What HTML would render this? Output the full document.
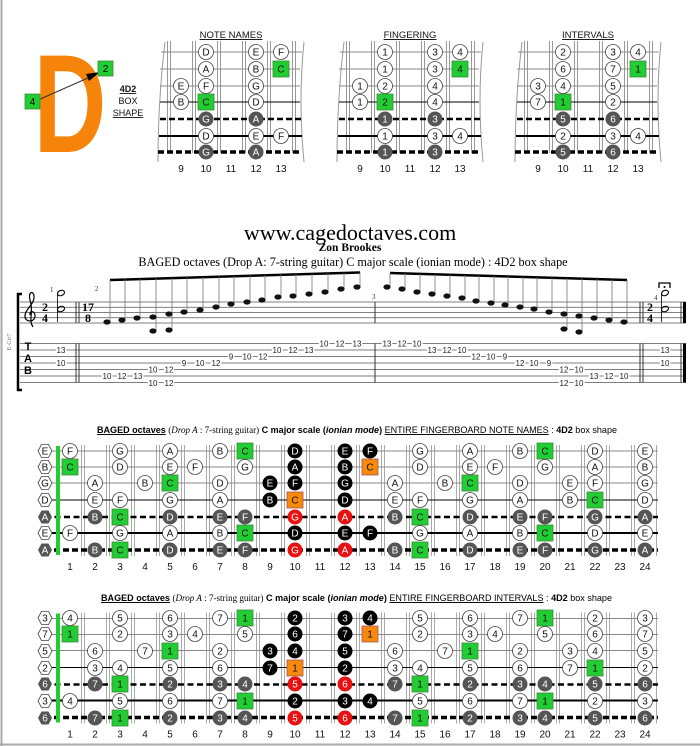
<!DOCTYPE html>
<html><head><meta charset="utf-8"><style>
html,body{margin:0;padding:0;background:#fff}
svg{display:block}
.w{fill:#fff;stroke:#444;stroke-width:.8}
.d{fill:#555}
.k{fill:#000}
.r{fill:#e81010}
.g{fill:#22cc33;stroke:#3a8a3a;stroke-width:.8}
.o{fill:#f7890c;stroke:#a55;stroke-width:.8}
.m text{font:10px "Liberation Sans",sans-serif;text-anchor:middle;fill:#111}
.m text.l{fill:#fff}
.fn{font:10px "Liberation Sans",sans-serif;text-anchor:middle;fill:#111}
.tb text{font:8px "Liberation Sans",sans-serif;text-anchor:middle;fill:#222;stroke:#fff;stroke-width:3;paint-order:stroke}
.nh{fill:#111}
.st line{stroke:#555;stroke-width:.8}
</style></head><body>
<svg width="700" height="746" viewBox="0 0 700 746" xmlns="http://www.w3.org/2000/svg">
<defs>
<polygon id="hw" points="-7,0 -3.5,-6.5 3.5,-6.5 7,0 3.5,6.5 -3.5,6.5" fill="#fff" stroke="#444" stroke-width=".8"/>
<polygon id="hd" points="-7,0 -3.5,-6.5 3.5,-6.5 7,0 3.5,6.5 -3.5,6.5" fill="#555"/>
</defs>
<line x1="1.5" y1="0" x2="1.5" y2="746" stroke="#aaa" stroke-width="2"/>
<line x1="0" y1="744.5" x2="700" y2="744.5" stroke="#aaa" stroke-width="2"/>

<!-- D logo -->
<text x="70" y="152" font-family="Liberation Sans" font-weight="bold" font-size="140" fill="#f7840a" text-anchor="middle" transform="translate(70,0) scale(0.72,1) translate(-70,0)">D</text>
<line x1="38" y1="100" x2="97" y2="74" stroke="#333" stroke-width="1"/>
<polygon points="100,72 86,74 89,81" fill="#000"/>
<rect x="98" y="61" width="15" height="15" class="g"/><text x="105.5" y="72" font-family="Liberation Sans" font-size="10" text-anchor="middle">2</text>
<rect x="25" y="94" width="15" height="15" class="g"/><text x="32.5" y="105" font-family="Liberation Sans" font-size="10" text-anchor="middle">4</text>
<g font-family="Liberation Sans" font-size="9" text-anchor="middle" fill="#111">
<text x="128" y="92" font-weight="bold" text-decoration="underline">4D2</text>
<text x="128" y="104">BOX</text>
<text x="128" y="116" text-decoration="underline">SHAPE</text>
</g>

<!-- top diagrams -->
<g font-family="Liberation Sans" font-size="9.5" text-anchor="middle" fill="#111" text-decoration="underline">
<text x="231" y="38">NOTE NAMES</text><text x="410" y="38">FINGERING</text><text x="588" y="38">INTERVALS</text>
</g>
<g id="frame">
<line x1="167" y1="97" x2="296" y2="97" stroke="#999" stroke-width="112" stroke-dasharray="1,2,1,21"/>
<path d="M165 42 Q158 100 158 162" fill="none" stroke="#999"/>
<path d="M304 42 Q298 100 304 162" fill="none" stroke="#999"/>
<line x1="161" y1="52" x2="302" y2="52" stroke="#888"/>
<line x1="160" y1="69" x2="300" y2="69" stroke="#888"/>
<line x1="160" y1="86" x2="300" y2="86" stroke="#888"/>
<line x1="160" y1="102" x2="300" y2="102" stroke="#000"/>
<line x1="160" y1="119" x2="302" y2="119" stroke="#000" stroke-width="2.5" stroke-dasharray="6,3"/>
<line x1="159" y1="136" x2="302" y2="136" stroke="#000" stroke-width="2"/>
<line x1="158" y1="152" x2="300" y2="152" stroke="#000" stroke-width="3.5" stroke-dasharray="6,3"/>
<g class="fn"><text x="181" y="172">9</text><text x="206" y="172">10</text><text x="231" y="172">11</text><text x="256" y="172">12</text><text x="281" y="172">13</text></g>
</g>
<use href="#frame" x="179"/><use href="#frame" x="357"/>

<g class="m">
<g transform="translate(0,52)"><circle class="w" cx="206" r="7.5"/><text x="206" y="3.5">D</text><circle class="w" cx="256" r="7.5"/><text x="256" y="3.5">E</text><circle class="w" cx="281" r="7.5"/><text x="281" y="3.5">F</text></g>
<g transform="translate(0,69)"><circle class="w" cx="206" r="7.5"/><text x="206" y="3.5">A</text><circle class="w" cx="256" r="7.5"/><text x="256" y="3.5">B</text><rect class="g" x="273" y="-8" width="16" height="16"/><text x="281" y="3.5">C</text></g>
<g transform="translate(0,86)"><circle class="w" cx="181" r="7.5"/><text x="181" y="3.5">E</text><circle class="w" cx="206" r="7.5"/><text x="206" y="3.5">F</text><circle class="w" cx="256" r="7.5"/><text x="256" y="3.5">G</text></g>
<g transform="translate(0,102)"><circle class="w" cx="181" r="7.5"/><text x="181" y="3.5">B</text><rect class="g" x="198" y="-8" width="16" height="16"/><text x="206" y="3.5">C</text><circle class="w" cx="256" r="7.5"/><text x="256" y="3.5">D</text></g>
<g transform="translate(0,119)"><circle class="d" cx="206" r="7.5"/><text class="l" x="206" y="3.5">G</text><circle class="d" cx="256" r="7.5"/><text class="l" x="256" y="3.5">A</text></g>
<g transform="translate(0,136)"><circle class="w" cx="206" r="7.5"/><text x="206" y="3.5">D</text><circle class="w" cx="256" r="7.5"/><text x="256" y="3.5">E</text><circle class="w" cx="281" r="7.5"/><text x="281" y="3.5">F</text></g>
<g transform="translate(0,152)"><circle class="d" cx="206" r="7.5"/><text class="l" x="206" y="3.5">G</text><circle class="d" cx="256" r="7.5"/><text class="l" x="256" y="3.5">A</text></g>

<g transform="translate(179,0)">
<g transform="translate(0,52)"><circle class="w" cx="206" r="7.5"/><text x="206" y="3.5">1</text><circle class="w" cx="256" r="7.5"/><text x="256" y="3.5">3</text><circle class="w" cx="281" r="7.5"/><text x="281" y="3.5">4</text></g>
<g transform="translate(0,69)"><circle class="w" cx="206" r="7.5"/><text x="206" y="3.5">1</text><circle class="w" cx="256" r="7.5"/><text x="256" y="3.5">3</text><rect class="g" x="273" y="-8" width="16" height="16"/><text x="281" y="3.5">4</text></g>
<g transform="translate(0,86)"><circle class="w" cx="181" r="7.5"/><text x="181" y="3.5">1</text><circle class="w" cx="206" r="7.5"/><text x="206" y="3.5">2</text><circle class="w" cx="256" r="7.5"/><text x="256" y="3.5">4</text></g>
<g transform="translate(0,102)"><circle class="w" cx="181" r="7.5"/><text x="181" y="3.5">1</text><rect class="g" x="198" y="-8" width="16" height="16"/><text x="206" y="3.5">2</text><circle class="w" cx="256" r="7.5"/><text x="256" y="3.5">4</text></g>
<g transform="translate(0,119)"><circle class="d" cx="206" r="7.5"/><text class="l" x="206" y="3.5">1</text><circle class="d" cx="256" r="7.5"/><text class="l" x="256" y="3.5">3</text></g>
<g transform="translate(0,136)"><circle class="w" cx="206" r="7.5"/><text x="206" y="3.5">1</text><circle class="w" cx="256" r="7.5"/><text x="256" y="3.5">3</text><circle class="w" cx="281" r="7.5"/><text x="281" y="3.5">4</text></g>
<g transform="translate(0,152)"><circle class="d" cx="206" r="7.5"/><text class="l" x="206" y="3.5">1</text><circle class="d" cx="256" r="7.5"/><text class="l" x="256" y="3.5">3</text></g>
</g>

<g transform="translate(357,0)">
<g transform="translate(0,52)"><circle class="w" cx="206" r="7.5"/><text x="206" y="3.5">2</text><circle class="w" cx="256" r="7.5"/><text x="256" y="3.5">3</text><circle class="w" cx="281" r="7.5"/><text x="281" y="3.5">4</text></g>
<g transform="translate(0,69)"><circle class="w" cx="206" r="7.5"/><text x="206" y="3.5">6</text><circle class="w" cx="256" r="7.5"/><text x="256" y="3.5">7</text><rect class="g" x="273" y="-8" width="16" height="16"/><text x="281" y="3.5">1</text></g>
<g transform="translate(0,86)"><circle class="w" cx="181" r="7.5"/><text x="181" y="3.5">3</text><circle class="w" cx="206" r="7.5"/><text x="206" y="3.5">4</text><circle class="w" cx="256" r="7.5"/><text x="256" y="3.5">5</text></g>
<g transform="translate(0,102)"><circle class="w" cx="181" r="7.5"/><text x="181" y="3.5">7</text><rect class="g" x="198" y="-8" width="16" height="16"/><text x="206" y="3.5">1</text><circle class="w" cx="256" r="7.5"/><text x="256" y="3.5">2</text></g>
<g transform="translate(0,119)"><circle class="d" cx="206" r="7.5"/><text class="l" x="206" y="3.5">5</text><circle class="d" cx="256" r="7.5"/><text class="l" x="256" y="3.5">6</text></g>
<g transform="translate(0,136)"><circle class="w" cx="206" r="7.5"/><text x="206" y="3.5">2</text><circle class="w" cx="256" r="7.5"/><text x="256" y="3.5">3</text><circle class="w" cx="281" r="7.5"/><text x="281" y="3.5">4</text></g>
<g transform="translate(0,152)"><circle class="d" cx="206" r="7.5"/><text class="l" x="206" y="3.5">5</text><circle class="d" cx="256" r="7.5"/><text class="l" x="256" y="3.5">6</text></g>
</g>
</g>

<!-- titles -->
<text x="350" y="240" font-family="Liberation Serif" font-size="22" text-anchor="middle" fill="#000">www.cagedoctaves.com</text>
<text x="350" y="251" font-family="Liberation Serif" font-size="11.5" font-weight="bold" text-anchor="middle">Zon Brookes</text>
<text x="353" y="266" font-family="Liberation Serif" font-size="12.2" text-anchor="middle">BAGED octaves (Drop A: 7-string guitar) C major scale (ionian mode) : 4D2 box shape</text>

<!-- staff -->
<g class="st">
<line x1="20" y1="302" x2="686" y2="302"/><line x1="20" y1="307.25" x2="686" y2="307.25"/><line x1="20" y1="312.5" x2="686" y2="312.5"/><line x1="20" y1="317.75" x2="686" y2="317.75"/><line x1="20" y1="323" x2="686" y2="323"/>
<line x1="20" y1="343.5" x2="686" y2="343.5"/><line x1="20" y1="350" x2="686" y2="350"/><line x1="20" y1="356.5" x2="686" y2="356.5"/><line x1="20" y1="363" x2="686" y2="363"/><line x1="20" y1="369.5" x2="686" y2="369.5"/><line x1="20" y1="376" x2="686" y2="376"/><line x1="20" y1="382.5" x2="686" y2="382.5"/>
</g>
<path d="M22 294 H18 V390 H22" fill="none" stroke="#000" stroke-width="2.5"/>
<text x="11" y="342" font-family="Liberation Serif" font-size="6" fill="#6a8a6a" text-anchor="middle" transform="rotate(-90 11 342)">E-Gtr7</text>
<g stroke="#000" fill="none">
<path d="M33 327 C28 320 34 312 30 300 C28 292 33 290 34 296 C35 304 24 310 25 317 C26 323 36 322 35 315 C34 310 29 311 30 315" stroke-width="1.2"/>
</g>
<g font-family="Liberation Serif" font-weight="bold" font-size="12" text-anchor="middle">
<text x="45" y="311">2</text><text x="45" y="322">4</text>
<text x="88" y="311">17</text><text x="88" y="322">8</text>
<text x="650" y="311">2</text><text x="650" y="322">4</text>
</g>
<g font-family="Liberation Serif" font-size="7" fill="#333"><text x="50" y="292">1</text><text x="95" y="291">2</text><text x="372" y="299">3</text><text x="654" y="300">4</text></g>
<g font-family="Liberation Sans" font-size="11" font-weight="bold" text-anchor="middle"><text x="28" y="350">T</text><text x="28" y="362">A</text><text x="28" y="374">B</text></g>
<!-- barlines -->
<g stroke="#333">
<line x1="76" y1="302" x2="76" y2="323"/><line x1="79" y1="302" x2="79" y2="323"/><line x1="76" y1="343.5" x2="76" y2="382.5"/><line x1="79" y1="343.5" x2="79" y2="382.5"/>
<line x1="375" y1="302" x2="375" y2="323"/><line x1="375" y1="343.5" x2="375" y2="382.5"/>
<line x1="640" y1="302" x2="640" y2="323"/><line x1="643" y1="302" x2="643" y2="323"/><line x1="640" y1="343.5" x2="640" y2="382.5"/><line x1="643" y1="343.5" x2="643" y2="382.5"/>
<line x1="681" y1="302" x2="681" y2="323"/><line x1="681" y1="343.5" x2="681" y2="382.5"/>
</g>
<rect x="683" y="302" width="3" height="21" fill="#000"/><rect x="683" y="343.5" width="3" height="39" fill="#000"/>
<!-- half notes -->
<g fill="none" stroke="#000" stroke-width="1.1">
<ellipse cx="61" cy="293" rx="3.6" ry="2.6" transform="rotate(-20 61 293)"/>
<ellipse cx="61" cy="309" rx="3.6" ry="2.6" transform="rotate(-20 61 309)"/>
<ellipse cx="665" cy="293" rx="3.6" ry="2.6" transform="rotate(-20 665 293)"/>
<ellipse cx="665" cy="309" rx="3.6" ry="2.6" transform="rotate(-20 665 309)"/>
</g>
<line x1="57.5" y1="293" x2="57.5" y2="322" stroke="#000" stroke-width=".8"/>
<line x1="661.5" y1="293" x2="661.5" y2="322" stroke="#000" stroke-width=".8"/>
<path d="M659 288 V283 H670 V288" fill="none" stroke="#000" stroke-width="1.3"/><circle cx="664.5" cy="287" r="1" fill="#000"/>
<!-- beams -->
<line x1="110" y1="280" x2="360" y2="272.5" stroke="#000" stroke-width="2.5"/>
<line x1="390" y1="273" x2="627" y2="280" stroke="#000" stroke-width="2.5"/>
<g stroke="#777" stroke-width=".8">
<line x1="110" y1="280" x2="110" y2="322"/><line x1="125" y1="279.5" x2="125" y2="320"/><line x1="140" y1="279" x2="140" y2="318"/><line x1="156" y1="278.5" x2="156" y2="331"/><line x1="172" y1="278" x2="172" y2="330"/><line x1="187" y1="277.5" x2="187" y2="312"/><line x1="203" y1="277" x2="203" y2="310"/><line x1="219" y1="276.5" x2="219" y2="307"/><line x1="234" y1="276" x2="234" y2="304"/><line x1="250" y1="275.5" x2="250" y2="302"/><line x1="265" y1="275" x2="265" y2="300"/><line x1="281" y1="274.5" x2="281" y2="297"/><line x1="296" y1="274" x2="296" y2="296"/><line x1="312" y1="273.8" x2="312" y2="294"/><line x1="328" y1="273.3" x2="328" y2="292"/><line x1="344" y1="273" x2="344" y2="289"/><line x1="360" y1="272.5" x2="360" y2="287"/>
<line x1="390" y1="273" x2="390" y2="287"/><line x1="405" y1="273.5" x2="405" y2="289"/><line x1="420" y1="274" x2="420" y2="292"/><line x1="435" y1="274.4" x2="435" y2="294"/><line x1="450" y1="274.8" x2="450" y2="296"/><line x1="465" y1="275.3" x2="465" y2="298"/><line x1="479" y1="275.7" x2="479" y2="301"/><line x1="494" y1="276.1" x2="494" y2="303"/><line x1="508" y1="276.5" x2="508" y2="305"/><line x1="523" y1="277" x2="523" y2="307"/><line x1="537" y1="277.4" x2="537" y2="309"/><line x1="552" y1="277.8" x2="552" y2="312"/><line x1="567" y1="278.3" x2="567" y2="329"/><line x1="582" y1="278.7" x2="582" y2="332"/><line x1="597" y1="279.1" x2="597" y2="318"/><line x1="612" y1="279.6" x2="612" y2="320"/><line x1="627" y1="280" x2="627" y2="322"/>
</g>
<g class="nh">
<ellipse cx="107" cy="322" rx="3.6" ry="2.6"/><ellipse cx="122" cy="320" rx="3.6" ry="2.6"/><ellipse cx="137" cy="318" rx="3.6" ry="2.6"/><ellipse cx="153" cy="317" rx="3.6" ry="2.6"/><ellipse cx="153" cy="331" rx="3.6" ry="2.6"/><ellipse cx="169" cy="314" rx="3.6" ry="2.6"/><ellipse cx="169" cy="330" rx="3.6" ry="2.6"/><ellipse cx="184" cy="312" rx="3.6" ry="2.6"/><ellipse cx="200" cy="310" rx="3.6" ry="2.6"/><ellipse cx="216" cy="307" rx="3.6" ry="2.6"/><ellipse cx="231" cy="304" rx="3.6" ry="2.6"/><ellipse cx="247" cy="302" rx="3.6" ry="2.6"/><ellipse cx="262" cy="300" rx="3.6" ry="2.6"/><ellipse cx="278" cy="297" rx="3.6" ry="2.6"/><ellipse cx="293" cy="296" rx="3.6" ry="2.6"/><ellipse cx="309" cy="294" rx="3.6" ry="2.6"/><ellipse cx="325" cy="292" rx="3.6" ry="2.6"/><ellipse cx="341" cy="289" rx="3.6" ry="2.6"/><ellipse cx="357" cy="287" rx="3.6" ry="2.6"/>
<ellipse cx="387" cy="287" rx="3.6" ry="2.6"/><ellipse cx="402" cy="289" rx="3.6" ry="2.6"/><ellipse cx="417" cy="292" rx="3.6" ry="2.6"/><ellipse cx="432" cy="294" rx="3.6" ry="2.6"/><ellipse cx="447" cy="296" rx="3.6" ry="2.6"/><ellipse cx="462" cy="298" rx="3.6" ry="2.6"/><ellipse cx="476" cy="301" rx="3.6" ry="2.6"/><ellipse cx="491" cy="303" rx="3.6" ry="2.6"/><ellipse cx="505" cy="305" rx="3.6" ry="2.6"/><ellipse cx="520" cy="307" rx="3.6" ry="2.6"/><ellipse cx="534" cy="309" rx="3.6" ry="2.6"/><ellipse cx="549" cy="312" rx="3.6" ry="2.6"/><ellipse cx="564" cy="314" rx="3.6" ry="2.6"/><ellipse cx="564" cy="329" rx="3.6" ry="2.6"/><ellipse cx="579" cy="316" rx="3.6" ry="2.6"/><ellipse cx="579" cy="332" rx="3.6" ry="2.6"/><ellipse cx="594" cy="318" rx="3.6" ry="2.6"/><ellipse cx="609" cy="320" rx="3.6" ry="2.6"/><ellipse cx="624" cy="322" rx="3.6" ry="2.6"/>
</g>
<!-- tab numbers -->
<g class="tb">
<text x="61" y="353">13</text><text x="61" y="366">10</text>
<text x="665" y="353">13</text><text x="665" y="366">10</text>
<text x="107" y="379">10</text><text x="122" y="379">12</text><text x="138" y="379">13</text>
<text x="153" y="372.5">10</text><text x="169" y="372.5">12</text><text x="153" y="386">10</text><text x="169" y="386">12</text>
<text x="184" y="366">9</text><text x="200" y="366">10</text><text x="216" y="366">12</text>
<text x="231" y="359.5">9</text><text x="247" y="359.5">10</text><text x="263" y="359.5">12</text>
<text x="277" y="353">10</text><text x="293" y="353">12</text><text x="309" y="353">13</text>
<text x="324" y="346.5">10</text><text x="340" y="346.5">12</text><text x="357" y="346.5">13</text>
<text x="387" y="346.5">13</text><text x="402" y="346.5">12</text><text x="417" y="346.5">10</text>
<text x="432" y="353">13</text><text x="447" y="353">12</text><text x="462" y="353">10</text>
<text x="476" y="359.5">12</text><text x="491" y="359.5">10</text><text x="505" y="359.5">9</text>
<text x="520" y="366">12</text><text x="534" y="366">10</text><text x="549" y="366">9</text>
<text x="564" y="372.5">12</text><text x="579" y="372.5">10</text><text x="564" y="386">12</text><text x="579" y="386">10</text>
<text x="594" y="379">13</text><text x="609" y="379">12</text><text x="624" y="379">10</text>
</g>

<!-- bottom board titles -->
<text x="97" y="433" font-family="Liberation Sans" font-size="9.5" textLength="520" lengthAdjust="spacingAndGlyphs"><tspan font-weight="bold" text-decoration="underline">BAGED octaves</tspan> <tspan font-family="Liberation Serif">(<tspan font-style="italic">Drop A</tspan> : 7-string guitar)</tspan> <tspan font-weight="bold">C major scale (<tspan font-style="italic">ionian mode</tspan>)</tspan> <tspan text-decoration="underline">ENTIRE FINGERBOARD  NOTE NAMES</tspan> : <tspan font-weight="bold">4D2</tspan> box shape</text>
<text x="101" y="601" font-family="Liberation Sans" font-size="9.5" textLength="511" lengthAdjust="spacingAndGlyphs"><tspan font-weight="bold" text-decoration="underline">BAGED octaves</tspan> <tspan font-family="Liberation Serif">(<tspan font-style="italic">Drop A</tspan> : 7-string guitar)</tspan> <tspan font-weight="bold">C major scale (<tspan font-style="italic">ionian mode</tspan>)</tspan> <tspan text-decoration="underline">ENTIRE FINGERBOARD  INTERVALS</tspan> : <tspan font-weight="bold">4D2</tspan> box shape</text>

<!-- board frame template -->
<g id="bf">
<line x1="81" y1="500.5" x2="658" y2="500.5" stroke="#aaa" stroke-width="111" stroke-dasharray="1,2,1,21"/>
<line x1="45" y1="451" x2="658" y2="451" stroke="#888"/>
<line x1="45" y1="467" x2="658" y2="467" stroke="#888"/>
<line x1="45" y1="483" x2="658" y2="483" stroke="#888"/>
<line x1="45" y1="500" x2="658" y2="500" stroke="#000"/>
<line x1="45" y1="517" x2="658" y2="517" stroke="#000" stroke-width="2.5" stroke-dasharray="6,3.5"/>
<line x1="45" y1="533" x2="658" y2="533" stroke="#000" stroke-width="2"/>
<line x1="45" y1="550" x2="658" y2="550" stroke="#000" stroke-width="3.5" stroke-dasharray="6,3"/>
<rect x="56" y="446" width="4" height="109" fill="#22cc33"/>
<g class="fn"><text x="70" y="570">1</text><text x="95" y="570">2</text><text x="120" y="570">3</text><text x="145" y="570">4</text><text x="170" y="570">5</text><text x="195" y="570">6</text><text x="220" y="570">7</text><text x="245" y="570">8</text><text x="270" y="570">9</text><text x="295" y="570">10</text><text x="320" y="570">11</text><text x="345" y="570">12</text><text x="370" y="570">13</text><text x="395" y="570">14</text><text x="420" y="570">15</text><text x="445" y="570">16</text><text x="470" y="570">17</text><text x="495" y="570">18</text><text x="520" y="570">19</text><text x="545" y="570">20</text><text x="570" y="570">21</text><text x="595" y="570">22</text><text x="620" y="570">23</text><text x="645" y="570">24</text></g>
</g>
<use href="#bf" y="167.5"/>

<g class="m">
<!-- board 1 -->
<g transform="translate(0,451)"><use href="#hw" x="45"/><text x="45" y="3.5">E</text>
<circle class="w" cx="70" r="7.5"/><text x="70" y="3.5">F</text><circle class="w" cx="120" r="7.5"/><text x="120" y="3.5">G</text><circle class="w" cx="170" r="7.5"/><text x="170" y="3.5">A</text><circle class="w" cx="220" r="7.5"/><text x="220" y="3.5">B</text><circle class="w" cx="420" r="7.5"/><text x="420" y="3.5">G</text><circle class="w" cx="470" r="7.5"/><text x="470" y="3.5">A</text><circle class="w" cx="520" r="7.5"/><text x="520" y="3.5">B</text><circle class="w" cx="595" r="7.5"/><text x="595" y="3.5">D</text><circle class="w" cx="645" r="7.5"/><text x="645" y="3.5">E</text>
<rect class="g" x="237" y="-8" width="16" height="16"/><text x="245" y="3.5">C</text><rect class="g" x="537" y="-8" width="16" height="16"/><text x="545" y="3.5">C</text>
<circle class="k" cx="295" r="7.5"/><text class="l" x="295" y="3.5">D</text><circle class="k" cx="345" r="7.5"/><text class="l" x="345" y="3.5">E</text><circle class="k" cx="370" r="7.5"/><text class="l" x="370" y="3.5">F</text></g>

<g transform="translate(0,467)"><use href="#hw" x="45"/><text x="45" y="3.5">B</text>
<circle class="w" cx="120" r="7.5"/><text x="120" y="3.5">D</text><circle class="w" cx="170" r="7.5"/><text x="170" y="3.5">E</text><circle class="w" cx="195" r="7.5"/><text x="195" y="3.5">F</text><circle class="w" cx="245" r="7.5"/><text x="245" y="3.5">G</text><circle class="w" cx="420" r="7.5"/><text x="420" y="3.5">D</text><circle class="w" cx="470" r="7.5"/><text x="470" y="3.5">E</text><circle class="w" cx="495" r="7.5"/><text x="495" y="3.5">F</text><circle class="w" cx="545" r="7.5"/><text x="545" y="3.5">G</text><circle class="w" cx="595" r="7.5"/><text x="595" y="3.5">A</text><circle class="w" cx="645" r="7.5"/><text x="645" y="3.5">B</text>
<rect class="g" x="62" y="-8" width="16" height="16"/><text x="70" y="3.5">C</text>
<circle class="k" cx="295" r="7.5"/><text class="l" x="295" y="3.5">A</text><circle class="k" cx="345" r="7.5"/><text class="l" x="345" y="3.5">B</text>
<rect class="o" x="362" y="-8" width="16" height="16"/><text x="370" y="3.5">C</text></g>

<g transform="translate(0,483)"><use href="#hw" x="45"/><text x="45" y="3.5">G</text>
<circle class="w" cx="95" r="7.5"/><text x="95" y="3.5">A</text><circle class="w" cx="145" r="7.5"/><text x="145" y="3.5">B</text><circle class="w" cx="220" r="7.5"/><text x="220" y="3.5">D</text><circle class="w" cx="395" r="7.5"/><text x="395" y="3.5">A</text><circle class="w" cx="445" r="7.5"/><text x="445" y="3.5">B</text><circle class="w" cx="520" r="7.5"/><text x="520" y="3.5">D</text><circle class="w" cx="570" r="7.5"/><text x="570" y="3.5">E</text><circle class="w" cx="595" r="7.5"/><text x="595" y="3.5">F</text><circle class="w" cx="645" r="7.5"/><text x="645" y="3.5">G</text>
<rect class="g" x="162" y="-8" width="16" height="16"/><text x="170" y="3.5">C</text><rect class="g" x="462" y="-8" width="16" height="16"/><text x="470" y="3.5">C</text>
<circle class="k" cx="270" r="7.5"/><text class="l" x="270" y="3.5">E</text><circle class="k" cx="295" r="7.5"/><text class="l" x="295" y="3.5">F</text><circle class="k" cx="345" r="7.5"/><text class="l" x="345" y="3.5">G</text></g>

<g transform="translate(0,500)"><use href="#hw" x="45"/><text x="45" y="3.5">D</text>
<circle class="w" cx="95" r="7.5"/><text x="95" y="3.5">E</text><circle class="w" cx="120" r="7.5"/><text x="120" y="3.5">F</text><circle class="w" cx="170" r="7.5"/><text x="170" y="3.5">G</text><circle class="w" cx="220" r="7.5"/><text x="220" y="3.5">A</text><circle class="w" cx="395" r="7.5"/><text x="395" y="3.5">E</text><circle class="w" cx="420" r="7.5"/><text x="420" y="3.5">F</text><circle class="w" cx="470" r="7.5"/><text x="470" y="3.5">G</text><circle class="w" cx="520" r="7.5"/><text x="520" y="3.5">A</text><circle class="w" cx="570" r="7.5"/><text x="570" y="3.5">B</text><circle class="w" cx="645" r="7.5"/><text x="645" y="3.5">D</text>
<rect class="g" x="587" y="-8" width="16" height="16"/><text x="595" y="3.5">C</text>
<circle class="k" cx="270" r="7.5"/><text class="l" x="270" y="3.5">B</text><circle class="k" cx="345" r="7.5"/><text class="l" x="345" y="3.5">D</text>
<rect class="o" x="287" y="-8" width="16" height="16"/><text x="295" y="3.5">C</text></g>

<g id="a1" transform="translate(0,517)"><use href="#hd" x="45"/><text class="l" x="45" y="3.5">A</text>
<circle class="d" cx="95" r="7.5"/><text class="l" x="95" y="3.5">B</text><circle class="d" cx="170" r="7.5"/><text class="l" x="170" y="3.5">D</text><circle class="d" cx="220" r="7.5"/><text class="l" x="220" y="3.5">E</text><circle class="d" cx="245" r="7.5"/><text class="l" x="245" y="3.5">F</text><circle class="d" cx="395" r="7.5"/><text class="l" x="395" y="3.5">B</text><circle class="d" cx="470" r="7.5"/><text class="l" x="470" y="3.5">D</text><circle class="d" cx="520" r="7.5"/><text class="l" x="520" y="3.5">E</text><circle class="d" cx="545" r="7.5"/><text class="l" x="545" y="3.5">F</text><circle class="d" cx="595" r="7.5"/><text class="l" x="595" y="3.5">G</text><circle class="d" cx="645" r="7.5"/><text class="l" x="645" y="3.5">A</text>
<rect class="g" x="112" y="-8" width="16" height="16"/><text x="120" y="3.5">C</text><rect class="g" x="412" y="-8" width="16" height="16"/><text x="420" y="3.5">C</text>
<circle class="r" cx="295" r="7.5"/><text class="l" x="295" y="3.5">G</text><circle class="r" cx="345" r="7.5"/><text class="l" x="345" y="3.5">A</text></g>

<g transform="translate(0,533)"><use href="#hw" x="45"/><text x="45" y="3.5">E</text>
<circle class="w" cx="70" r="7.5"/><text x="70" y="3.5">F</text><circle class="w" cx="120" r="7.5"/><text x="120" y="3.5">G</text><circle class="w" cx="170" r="7.5"/><text x="170" y="3.5">A</text><circle class="w" cx="220" r="7.5"/><text x="220" y="3.5">B</text><circle class="w" cx="420" r="7.5"/><text x="420" y="3.5">G</text><circle class="w" cx="470" r="7.5"/><text x="470" y="3.5">A</text><circle class="w" cx="520" r="7.5"/><text x="520" y="3.5">B</text><circle class="w" cx="595" r="7.5"/><text x="595" y="3.5">D</text><circle class="w" cx="645" r="7.5"/><text x="645" y="3.5">E</text>
<rect class="g" x="237" y="-8" width="16" height="16"/><text x="245" y="3.5">C</text><rect class="g" x="537" y="-8" width="16" height="16"/><text x="545" y="3.5">C</text>
<circle class="k" cx="295" r="7.5"/><text class="l" x="295" y="3.5">D</text><circle class="k" cx="345" r="7.5"/><text class="l" x="345" y="3.5">E</text><circle class="k" cx="370" r="7.5"/><text class="l" x="370" y="3.5">F</text></g>

<g transform="translate(0,550)"><use href="#hd" x="45"/><text class="l" x="45" y="3.5">A</text>
<circle class="d" cx="95" r="7.5"/><text class="l" x="95" y="3.5">B</text><circle class="d" cx="170" r="7.5"/><text class="l" x="170" y="3.5">D</text><circle class="d" cx="220" r="7.5"/><text class="l" x="220" y="3.5">E</text><circle class="d" cx="245" r="7.5"/><text class="l" x="245" y="3.5">F</text><circle class="d" cx="395" r="7.5"/><text class="l" x="395" y="3.5">B</text><circle class="d" cx="470" r="7.5"/><text class="l" x="470" y="3.5">D</text><circle class="d" cx="520" r="7.5"/><text class="l" x="520" y="3.5">E</text><circle class="d" cx="545" r="7.5"/><text class="l" x="545" y="3.5">F</text><circle class="d" cx="595" r="7.5"/><text class="l" x="595" y="3.5">G</text><circle class="d" cx="645" r="7.5"/><text class="l" x="645" y="3.5">A</text>
<rect class="g" x="112" y="-8" width="16" height="16"/><text x="120" y="3.5">C</text><rect class="g" x="412" y="-8" width="16" height="16"/><text x="420" y="3.5">C</text>
<circle class="r" cx="295" r="7.5"/><text class="l" x="295" y="3.5">G</text><circle class="r" cx="345" r="7.5"/><text class="l" x="345" y="3.5">A</text></g>

<!-- board 2 -->
<g transform="translate(0,618)"><use href="#hw" x="45"/><text x="45" y="3.5">3</text>
<circle class="w" cx="70" r="7.5"/><text x="70" y="3.5">4</text><circle class="w" cx="120" r="7.5"/><text x="120" y="3.5">5</text><circle class="w" cx="170" r="7.5"/><text x="170" y="3.5">6</text><circle class="w" cx="220" r="7.5"/><text x="220" y="3.5">7</text><circle class="w" cx="420" r="7.5"/><text x="420" y="3.5">5</text><circle class="w" cx="470" r="7.5"/><text x="470" y="3.5">6</text><circle class="w" cx="520" r="7.5"/><text x="520" y="3.5">7</text><circle class="w" cx="595" r="7.5"/><text x="595" y="3.5">2</text><circle class="w" cx="645" r="7.5"/><text x="645" y="3.5">3</text>
<rect class="g" x="237" y="-8" width="16" height="16"/><text x="245" y="3.5">1</text><rect class="g" x="537" y="-8" width="16" height="16"/><text x="545" y="3.5">1</text>
<circle class="k" cx="295" r="7.5"/><text class="l" x="295" y="3.5">2</text><circle class="k" cx="345" r="7.5"/><text class="l" x="345" y="3.5">3</text><circle class="k" cx="370" r="7.5"/><text class="l" x="370" y="3.5">4</text></g>

<g transform="translate(0,634)"><use href="#hw" x="45"/><text x="45" y="3.5">7</text>
<circle class="w" cx="120" r="7.5"/><text x="120" y="3.5">2</text><circle class="w" cx="170" r="7.5"/><text x="170" y="3.5">3</text><circle class="w" cx="195" r="7.5"/><text x="195" y="3.5">4</text><circle class="w" cx="245" r="7.5"/><text x="245" y="3.5">5</text><circle class="w" cx="420" r="7.5"/><text x="420" y="3.5">2</text><circle class="w" cx="470" r="7.5"/><text x="470" y="3.5">3</text><circle class="w" cx="495" r="7.5"/><text x="495" y="3.5">4</text><circle class="w" cx="545" r="7.5"/><text x="545" y="3.5">5</text><circle class="w" cx="595" r="7.5"/><text x="595" y="3.5">6</text><circle class="w" cx="645" r="7.5"/><text x="645" y="3.5">7</text>
<rect class="g" x="62" y="-8" width="16" height="16"/><text x="70" y="3.5">1</text>
<circle class="k" cx="295" r="7.5"/><text class="l" x="295" y="3.5">6</text><circle class="k" cx="345" r="7.5"/><text class="l" x="345" y="3.5">7</text>
<rect class="o" x="362" y="-8" width="16" height="16"/><text x="370" y="3.5">1</text></g>

<g transform="translate(0,651)"><use href="#hw" x="45"/><text x="45" y="3.5">5</text>
<circle class="w" cx="95" r="7.5"/><text x="95" y="3.5">6</text><circle class="w" cx="145" r="7.5"/><text x="145" y="3.5">7</text><circle class="w" cx="220" r="7.5"/><text x="220" y="3.5">2</text><circle class="w" cx="395" r="7.5"/><text x="395" y="3.5">6</text><circle class="w" cx="445" r="7.5"/><text x="445" y="3.5">7</text><circle class="w" cx="520" r="7.5"/><text x="520" y="3.5">2</text><circle class="w" cx="570" r="7.5"/><text x="570" y="3.5">3</text><circle class="w" cx="595" r="7.5"/><text x="595" y="3.5">4</text><circle class="w" cx="645" r="7.5"/><text x="645" y="3.5">5</text>
<rect class="g" x="162" y="-8" width="16" height="16"/><text x="170" y="3.5">1</text><rect class="g" x="462" y="-8" width="16" height="16"/><text x="470" y="3.5">1</text>
<circle class="k" cx="270" r="7.5"/><text class="l" x="270" y="3.5">3</text><circle class="k" cx="295" r="7.5"/><text class="l" x="295" y="3.5">4</text><circle class="k" cx="345" r="7.5"/><text class="l" x="345" y="3.5">5</text></g>

<g transform="translate(0,668)"><use href="#hw" x="45"/><text x="45" y="3.5">2</text>
<circle class="w" cx="95" r="7.5"/><text x="95" y="3.5">3</text><circle class="w" cx="120" r="7.5"/><text x="120" y="3.5">4</text><circle class="w" cx="170" r="7.5"/><text x="170" y="3.5">5</text><circle class="w" cx="220" r="7.5"/><text x="220" y="3.5">6</text><circle class="w" cx="395" r="7.5"/><text x="395" y="3.5">3</text><circle class="w" cx="420" r="7.5"/><text x="420" y="3.5">4</text><circle class="w" cx="470" r="7.5"/><text x="470" y="3.5">5</text><circle class="w" cx="520" r="7.5"/><text x="520" y="3.5">6</text><circle class="w" cx="570" r="7.5"/><text x="570" y="3.5">7</text><circle class="w" cx="645" r="7.5"/><text x="645" y="3.5">2</text>
<rect class="g" x="587" y="-8" width="16" height="16"/><text x="595" y="3.5">1</text>
<circle class="k" cx="270" r="7.5"/><text class="l" x="270" y="3.5">7</text><circle class="k" cx="345" r="7.5"/><text class="l" x="345" y="3.5">2</text>
<rect class="o" x="287" y="-8" width="16" height="16"/><text x="295" y="3.5">1</text></g>

<g transform="translate(0,684)"><use href="#hd" x="45"/><text class="l" x="45" y="3.5">6</text>
<circle class="d" cx="95" r="7.5"/><text class="l" x="95" y="3.5">7</text><circle class="d" cx="170" r="7.5"/><text class="l" x="170" y="3.5">2</text><circle class="d" cx="220" r="7.5"/><text class="l" x="220" y="3.5">3</text><circle class="d" cx="245" r="7.5"/><text class="l" x="245" y="3.5">4</text><circle class="d" cx="395" r="7.5"/><text class="l" x="395" y="3.5">7</text><circle class="d" cx="470" r="7.5"/><text class="l" x="470" y="3.5">2</text><circle class="d" cx="520" r="7.5"/><text class="l" x="520" y="3.5">3</text><circle class="d" cx="545" r="7.5"/><text class="l" x="545" y="3.5">4</text><circle class="d" cx="595" r="7.5"/><text class="l" x="595" y="3.5">5</text><circle class="d" cx="645" r="7.5"/><text class="l" x="645" y="3.5">6</text>
<rect class="g" x="112" y="-8" width="16" height="16"/><text x="120" y="3.5">1</text><rect class="g" x="412" y="-8" width="16" height="16"/><text x="420" y="3.5">1</text>
<circle class="r" cx="295" r="7.5"/><text class="l" x="295" y="3.5">5</text><circle class="r" cx="345" r="7.5"/><text class="l" x="345" y="3.5">6</text></g>

<g transform="translate(0,701)"><use href="#hw" x="45"/><text x="45" y="3.5">3</text>
<circle class="w" cx="70" r="7.5"/><text x="70" y="3.5">4</text><circle class="w" cx="120" r="7.5"/><text x="120" y="3.5">5</text><circle class="w" cx="170" r="7.5"/><text x="170" y="3.5">6</text><circle class="w" cx="220" r="7.5"/><text x="220" y="3.5">7</text><circle class="w" cx="420" r="7.5"/><text x="420" y="3.5">5</text><circle class="w" cx="470" r="7.5"/><text x="470" y="3.5">6</text><circle class="w" cx="520" r="7.5"/><text x="520" y="3.5">7</text><circle class="w" cx="595" r="7.5"/><text x="595" y="3.5">2</text><circle class="w" cx="645" r="7.5"/><text x="645" y="3.5">3</text>
<rect class="g" x="237" y="-8" width="16" height="16"/><text x="245" y="3.5">1</text><rect class="g" x="537" y="-8" width="16" height="16"/><text x="545" y="3.5">1</text>
<circle class="k" cx="295" r="7.5"/><text class="l" x="295" y="3.5">2</text><circle class="k" cx="345" r="7.5"/><text class="l" x="345" y="3.5">3</text><circle class="k" cx="370" r="7.5"/><text class="l" x="370" y="3.5">4</text></g>

<g transform="translate(0,718)"><use href="#hd" x="45"/><text class="l" x="45" y="3.5">6</text>
<circle class="d" cx="95" r="7.5"/><text class="l" x="95" y="3.5">7</text><circle class="d" cx="170" r="7.5"/><text class="l" x="170" y="3.5">2</text><circle class="d" cx="220" r="7.5"/><text class="l" x="220" y="3.5">3</text><circle class="d" cx="245" r="7.5"/><text class="l" x="245" y="3.5">4</text><circle class="d" cx="395" r="7.5"/><text class="l" x="395" y="3.5">7</text><circle class="d" cx="470" r="7.5"/><text class="l" x="470" y="3.5">2</text><circle class="d" cx="520" r="7.5"/><text class="l" x="520" y="3.5">3</text><circle class="d" cx="545" r="7.5"/><text class="l" x="545" y="3.5">4</text><circle class="d" cx="595" r="7.5"/><text class="l" x="595" y="3.5">5</text><circle class="d" cx="645" r="7.5"/><text class="l" x="645" y="3.5">6</text>
<rect class="g" x="112" y="-8" width="16" height="16"/><text x="120" y="3.5">1</text><rect class="g" x="412" y="-8" width="16" height="16"/><text x="420" y="3.5">1</text>
<circle class="r" cx="295" r="7.5"/><text class="l" x="295" y="3.5">5</text><circle class="r" cx="345" r="7.5"/><text class="l" x="345" y="3.5">6</text></g>
</g>
</svg>
</body></html>
